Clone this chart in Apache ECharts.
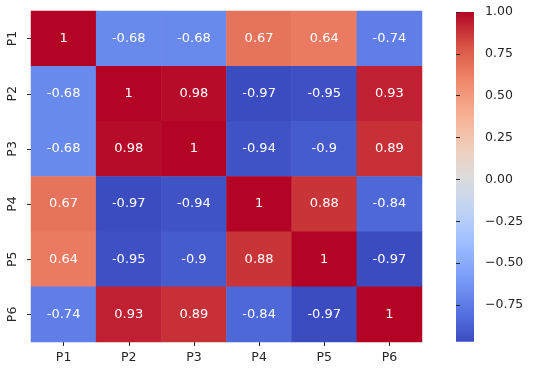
<!DOCTYPE html>
<html>
<head>
<meta charset="utf-8">
<script src="https://cdn.jsdelivr.net/npm/echarts@6/dist/echarts.min.js"></script>
<style>html,body{margin:0;padding:0;background:#fff}#c{width:536px;height:373px}</style>
</head>
<body>
<div id="c"></div>
<script>
const categories = ['P1', 'P2', 'P3', 'P4', 'P5', 'P6'];
const rowP1 = [1, -0.68, -0.68, 0.67, 0.64, -0.74];
const rowP2 = [-0.68, 1, 0.98, -0.97, -0.95, 0.93];
const rowP3 = [-0.68, 0.98, 1, -0.94, -0.9, 0.89];
const rowP4 = [0.67, -0.97, -0.94, 1, 0.88, -0.84];
const rowP5 = [0.64, -0.95, -0.9, 0.88, 1, -0.97];
const rowP6 = [-0.74, 0.93, 0.89, -0.84, -0.97, 1];
const rows = [rowP1, rowP2, rowP3, rowP4, rowP5, rowP6];
const colorMin = -0.97;
const colorMax = 1;
const colorbarTicks = [-0.75, -0.5, -0.25, 0, 0.25, 0.5, 0.75, 1];
const coolwarm = ['#3b4cc0', '#5977e3', '#7b9ff9', '#9ebeff', '#c0d4f5', '#dddcdc', '#f2cbb7', '#f7ac8e', '#ee8468', '#d65244', '#b40426'];

const data = [];
rows.forEach((r, yi) => r.forEach((v, xi) => data.push([xi, yi, v])));

const font = 'DejaVu Sans';
const ink = '#262626';
const chart = echarts.init(document.getElementById('c'), null, {renderer: 'canvas'});
chart.setOption({
  animation: false,
  backgroundColor: '#fff',
  textStyle: {fontFamily: font},
  grid: [
    {left: 31, top: 11, right: 114, bottom: 31},
    {left: 456, top: 12, width: 18, height: 293}
  ],
  xAxis: [
    {type: 'category', data: categories, gridIndex: 0, position: 'bottom',
     axisLine: {show: false}, splitLine: {show: false},
     axisTick: {show: true, length: 4, alignWithLabel: true, lineStyle: {color: ink}},
     axisLabel: {color: ink, fontFamily: font, fontSize: 12.5, margin: 9}},
    {type: 'value', gridIndex: 1, show: false, min: 0, max: 1}
  ],
  yAxis: [
    {type: 'category', data: categories, gridIndex: 0, inverse: true,
     axisLine: {show: false}, splitLine: {show: false},
     axisTick: {show: true, length: 4, alignWithLabel: true, lineStyle: {color: ink}},
     axisLabel: {color: ink, fontFamily: font, fontSize: 12.5, rotate: 90, margin: 12}},
    {type: 'value', gridIndex: 1, position: 'right', min: colorbarTicks[0], max: colorbarTicks[colorbarTicks.length - 1], interval: 0.25,
     axisLine: {show: false}, splitLine: {show: false},
     axisTick: {show: true, length: 4, lineStyle: {color: ink}},
     axisLabel: {color: ink, fontFamily: font, fontSize: 12.5, margin: 11,
       formatter: v => v.toFixed(2).replace('-', '\u2212')}}
  ],
  visualMap: {
    type: 'continuous', min: colorMin, max: colorMax, seriesIndex: 0,
    show: false, inRange: {color: coolwarm}
  },
  series: [{
    type: 'heatmap', xAxisIndex: 0, yAxisIndex: 0, data: data,
    label: {show: true, color: '#fff', fontFamily: font, fontSize: 13,
      formatter: p => String(p.value[2])},
    itemStyle: {borderWidth: 0},
    emphasis: {disabled: true}
  }]
});

// colorbar: rectangle spanning colorMin..colorMax on the colorbar axis
const pTop = chart.convertToPixel({gridIndex: 1}, [0, colorMax]);
const pBot = chart.convertToPixel({gridIndex: 1}, [0, colorMin]);
const pRight = chart.convertToPixel({gridIndex: 1}, [1, colorMax]);
const stops = coolwarm.map((c, i) => ({offset: 1 - i / (coolwarm.length - 1), color: c}));
chart.setOption({
  graphic: [{
    type: 'rect', silent: true,
    shape: {x: pTop[0], y: pTop[1], width: pRight[0] - pTop[0], height: pBot[1] - pTop[1]},
    style: {fill: new echarts.graphic.LinearGradient(0, 0, 0, 1, stops)}
  }]
});
</script>
</body>
</html>
